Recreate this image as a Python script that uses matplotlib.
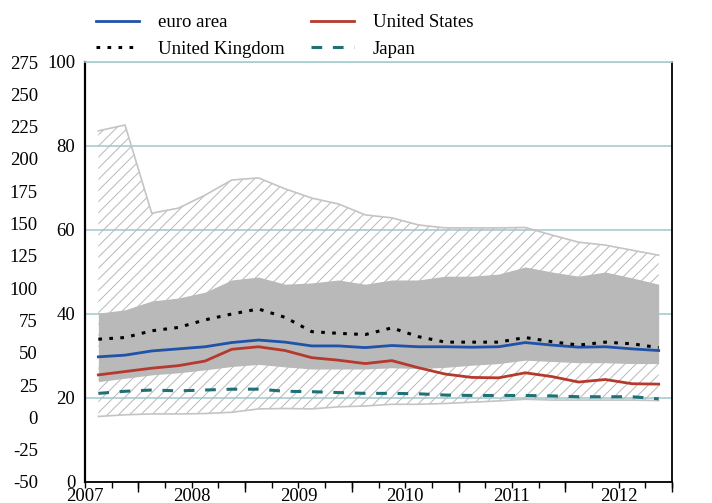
import numpy as np
import matplotlib
matplotlib.use('Agg')
import matplotlib.pyplot as plt
from matplotlib.lines import Line2D

plt.rcParams['font.family'] = ['Liberation Serif', 'DejaVu Serif']
plt.rcParams['font.size'] = 13.5
plt.rcParams['axes.unicode_minus'] = False
plt.rcParams['hatch.linewidth'] = 0.7

# quarterly observations
quarters = ['2007Q1', '2007Q2', '2007Q3', '2007Q4', '2008Q1', '2008Q2', '2008Q3', '2008Q4',
            '2009Q1', '2009Q2', '2009Q3', '2009Q4', '2010Q1', '2010Q2', '2010Q3', '2010Q4',
            '2011Q1', '2011Q2', '2011Q3', '2011Q4', '2012Q1', '2012Q2']

# range across countries (hatched) and inter-quartile band (grey)
range_max = [83.6, 85.0, 64.0, 65.2, 68.3, 71.9, 72.4, 69.8, 67.6, 66.2, 63.6,
             62.9, 61.2, 60.5, 60.5, 60.5, 60.6, 58.8, 57.1, 56.4, 55.2, 54.0]
range_min = [15.6, 16.0, 16.2, 16.2, 16.3, 16.6, 17.4, 17.5, 17.4, 17.9, 18.1,
             18.5, 18.5, 18.7, 19.0, 19.3, 19.7, 19.5, 19.5, 19.5, 19.5, 19.4]
band_hi = [40.2, 41.0, 43.1, 43.8, 45.2, 48.1, 48.8, 47.1, 47.4, 48.1, 47.1,
           48.1, 48.1, 49.0, 49.0, 49.5, 51.2, 50.0, 49.0, 50.0, 48.6, 47.1]
band_lo = [23.9, 24.7, 25.5, 26.0, 26.7, 27.5, 28.0, 27.4, 26.9, 26.9, 26.9,
           27.2, 27.0, 27.3, 27.8, 28.2, 29.0, 28.7, 28.4, 28.4, 28.2, 28.2]

euro_area = [29.8, 30.2, 31.2, 31.7, 32.2, 33.2, 33.8, 33.3, 32.4, 32.4, 32.0,
             32.5, 32.2, 32.2, 32.1, 32.2, 33.2, 32.6, 32.1, 32.2, 31.7, 31.3]
united_states = [25.5, 26.3, 27.1, 27.7, 28.8, 31.6, 32.2, 31.3, 29.6, 29.0, 28.2,
                 28.9, 27.2, 25.7, 24.9, 24.8, 26.0, 25.1, 23.8, 24.4, 23.4, 23.3]
united_kingdom = [34.0, 34.4, 36.0, 36.8, 38.6, 40.0, 41.2, 39.2, 35.8, 35.4, 35.1,
                  36.7, 34.6, 33.3, 33.3, 33.3, 34.4, 33.4, 32.6, 33.3, 32.9, 32.0]
japan = [21.1, 21.6, 21.9, 21.7, 21.9, 22.1, 22.1, 21.6, 21.5, 21.3, 21.1,
         21.1, 21.0, 20.7, 20.6, 20.6, 20.6, 20.5, 20.3, 20.3, 20.3, 19.8]

year_labels = ['2007', '2008', '2009', '2010', '2011', '2012']
outer_ticks = [-50, -25, 0, 25, 50, 75, 100, 125, 150, 175, 200, 225, 250, 275]

# quarter string -> mid-quarter position
x = np.array([int(q[:4]) + (int(q[-1]) - 0.5) / 4 for q in quarters])

grid_col = '#a8cccf'

fig = plt.figure(figsize=(7.12, 5.03), dpi=100)
ax = fig.add_axes([85 / 712, 21 / 503, 587 / 712, 420 / 503])

ax.fill_between(x, range_min, range_max, facecolor='none', edgecolor='#b8b8b8',
                hatch='///', linewidth=0, zorder=2)
ax.plot(x, range_max, color='#c4c4c4', lw=1.2, zorder=2)
ax.plot(x, range_min, color='#c4c4c4', lw=1.2, zorder=2)
ax.fill_between(x, band_lo, band_hi, color='#b9b9b9', linewidth=0, zorder=3)

ax.plot(x, euro_area, color='#1f52a8', lw=2.0, zorder=5)
ax.plot(x, united_states, color='#b5392d', lw=2.0, zorder=5)
ax.plot(x, united_kingdom, color='black', lw=2.2, dashes=(1.2, 2.4), zorder=5)
ax.plot(x, japan, color='#207078', lw=2.2, dashes=(3.5, 3.5), zorder=5)

ax.set_xlim(2007, 2012.5)
ax.set_ylim(0, 100)
ax.set_yticks([0, 20, 40, 60, 80, 100])
ax.grid(axis='y', color=grid_col, lw=1.2, zorder=1)
ax.tick_params(axis='y', length=0, labelleft=True, labelright=True, pad=7)

ax.set_xticks([2007, 2008, 2009, 2010, 2011, 2012])
ax.set_xticklabels(year_labels)
ax.set_xticks(np.arange(2007, 2012.6, 0.25), minor=True)
ax.tick_params(axis='x', which='both', direction='out', length=4, width=1, pad=0)

# longer ticks at the half years
sec = ax.secondary_xaxis('bottom')
sec.set_xticks([2007.5, 2008.5, 2009.5, 2010.5, 2011.5, 2012.5])
sec.tick_params(length=7, width=1, labelbottom=False)
sec.spines['bottom'].set_visible(False)

ax.spines['top'].set_color(grid_col)
ax.spines['top'].set_linewidth(1.2)
ax.spines['left'].set_linewidth(1.6)
ax.spines['right'].set_linewidth(1.3)
ax.spines['bottom'].set_linewidth(1.3)

# second scale on the far left
ax2 = ax.twinx()
ax2.set_ylim(-50, 275)
ax2.set_yticks(outer_ticks)
ax2.yaxis.set_ticks_position('left')
ax2.yaxis.set_label_position('left')
ax2.tick_params(axis='y', length=0, pad=34)
for s in ax2.spines.values():
    s.set_visible(False)

handles = [Line2D([], [], color='#1f52a8', lw=2.0),
           Line2D([], [], color='black', lw=2.2, dashes=(1.2, 2.4)),
           Line2D([], [], color='#b5392d', lw=2.0),
           Line2D([], [], color='#207078', lw=2.2, dashes=(3.5, 3.5))]
labels = ['euro area', 'United Kingdom', 'United States', 'Japan']
fig.legend(handles, labels, ncol=2, loc='center left',
           bbox_to_anchor=(96 / 712, 1 - 36 / 503), frameon=False,
           handlelength=2.3, handletextpad=1.0, columnspacing=1.4,
           labelspacing=0.5, borderpad=0, borderaxespad=0)

fig.savefig('out.png', dpi=100)
